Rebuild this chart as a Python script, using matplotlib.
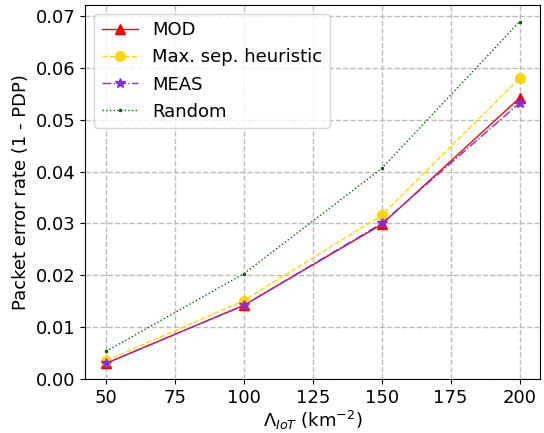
import matplotlib
matplotlib.use("Agg")
import matplotlib.pyplot as plt

# densities (km^-2)
lam = [50, 100, 150, 200]

mod = [0.0030, 0.0142, 0.0298, 0.0542]
maxsep = [0.0035, 0.0151, 0.0316, 0.0580]
meas = [0.0030, 0.0142, 0.0300, 0.0532]
rand = [0.0053, 0.0203, 0.0406, 0.0689]

fig, ax = plt.subplots(figsize=(5.44, 4.33), dpi=100)

ax.plot(lam, mod, '-', color='red', marker='^', markersize=7, linewidth=1, label='MOD')
ax.plot(lam, maxsep, '--', color='gold', marker='o', markersize=7, linewidth=1, label='Max. sep. heuristic')
ax.plot(lam, meas, '-.', color='blueviolet', marker='*', markersize=7, linewidth=1, label='MEAS')
ax.plot(lam, rand, ':', color='darkgreen', marker='.', markersize=3, linewidth=1, label='Random')

ax.set_xticks([50, 75, 100, 125, 150, 175, 200])
ax.set_ylim(0, 0.0721)
ax.tick_params(labelsize=13)
ax.set_xlabel(r'$\Lambda_{IoT}$ (km$^{-2}$)', fontsize=13, labelpad=2)
ax.set_ylabel('Packet error rate (1 - PDP)', fontsize=13)
ax.grid(True, linestyle='--', color='#bbbbbb', linewidth=1)
ax.legend(loc='upper left', fontsize=13)

fig.subplots_adjust(left=0.157, right=0.993, top=0.988, bottom=0.125)
fig.savefig('out.png')
